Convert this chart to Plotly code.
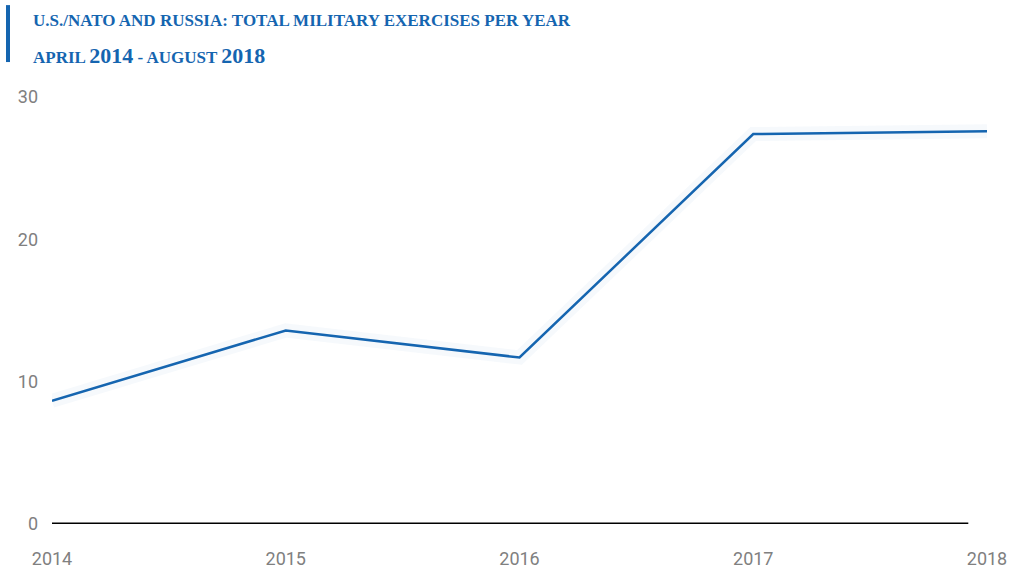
import plotly.graph_objects as go

years = [2014, 2015, 2016, 2017, 2018]
exercises = [8.65, 13.6, 11.7, 27.4, 27.6]
y_ticks = [0, 10, 20, 30]

blue = "#1565b0"

L, R, T, B = 52, 27, 97, 44.5
W, H = 1014, 569
PW, PH = W - L - R, H - T - B


def px(x):
    return (x - L) / PW


def py(y):
    return (H - B - y) / PH


fig = go.Figure()
# soft shadow
fig.add_trace(go.Scatter(x=years, y=exercises, mode="lines",
                         line=dict(color="rgba(21,101,176,0.04)", width=14),
                         hoverinfo="skip", showlegend=False))
fig.add_trace(go.Scatter(x=years, y=exercises, mode="lines",
                         line=dict(color=blue, width=2.5),
                         showlegend=False))

fig.update_layout(
    width=W, height=H,
    margin=dict(l=L, r=R, t=T, b=B),
    paper_bgcolor="white", plot_bgcolor="white",
    xaxis=dict(range=[2014, 2018], tickvals=years, ticktext=[str(y) for y in years],
               showgrid=False, zeroline=False, showline=False, ticks="",
               tickfont=dict(family="Roboto", size=18, color="#808080"),
               ticklabelstandoff=22, automargin=False),
    yaxis=dict(range=[0, 30], tickvals=y_ticks, showgrid=False, zeroline=False,
               showline=False, ticks="",
               tickfont=dict(family="Roboto", size=18, color="#808080"),
               ticklabelstandoff=13, automargin=False),
    shapes=[
        dict(type="line", xref="x domain", yref="y", x0=0, x1=0.98, y0=0, y1=0,
             line=dict(color="black", width=3)),
        dict(type="rect", xref="paper", yref="paper", x0=px(6), x1=px(10),
             y0=py(62), y1=py(5), fillcolor=blue, line=dict(width=0)),
    ],
    annotations=[
        dict(xref="paper", yref="paper", x=px(31), y=py(20), xanchor="left", yanchor="middle",
             text="<b>U.S./NATO AND RUSSIA: TOTAL MILITARY EXERCISES PER YEAR</b>",
             showarrow=False, font=dict(family="Liberation Serif", size=17, color=blue)),
        dict(xref="paper", yref="paper", x=px(31), y=py(55), xanchor="left", yanchor="middle",
             text="<b>APRIL <span style='font-size:22px'>2014</span> - AUGUST <span style='font-size:22px'>2018</span></b>",
             showarrow=False, font=dict(family="Liberation Serif", size=17, color=blue)),
    ],
)

fig.write_html("out.html")
